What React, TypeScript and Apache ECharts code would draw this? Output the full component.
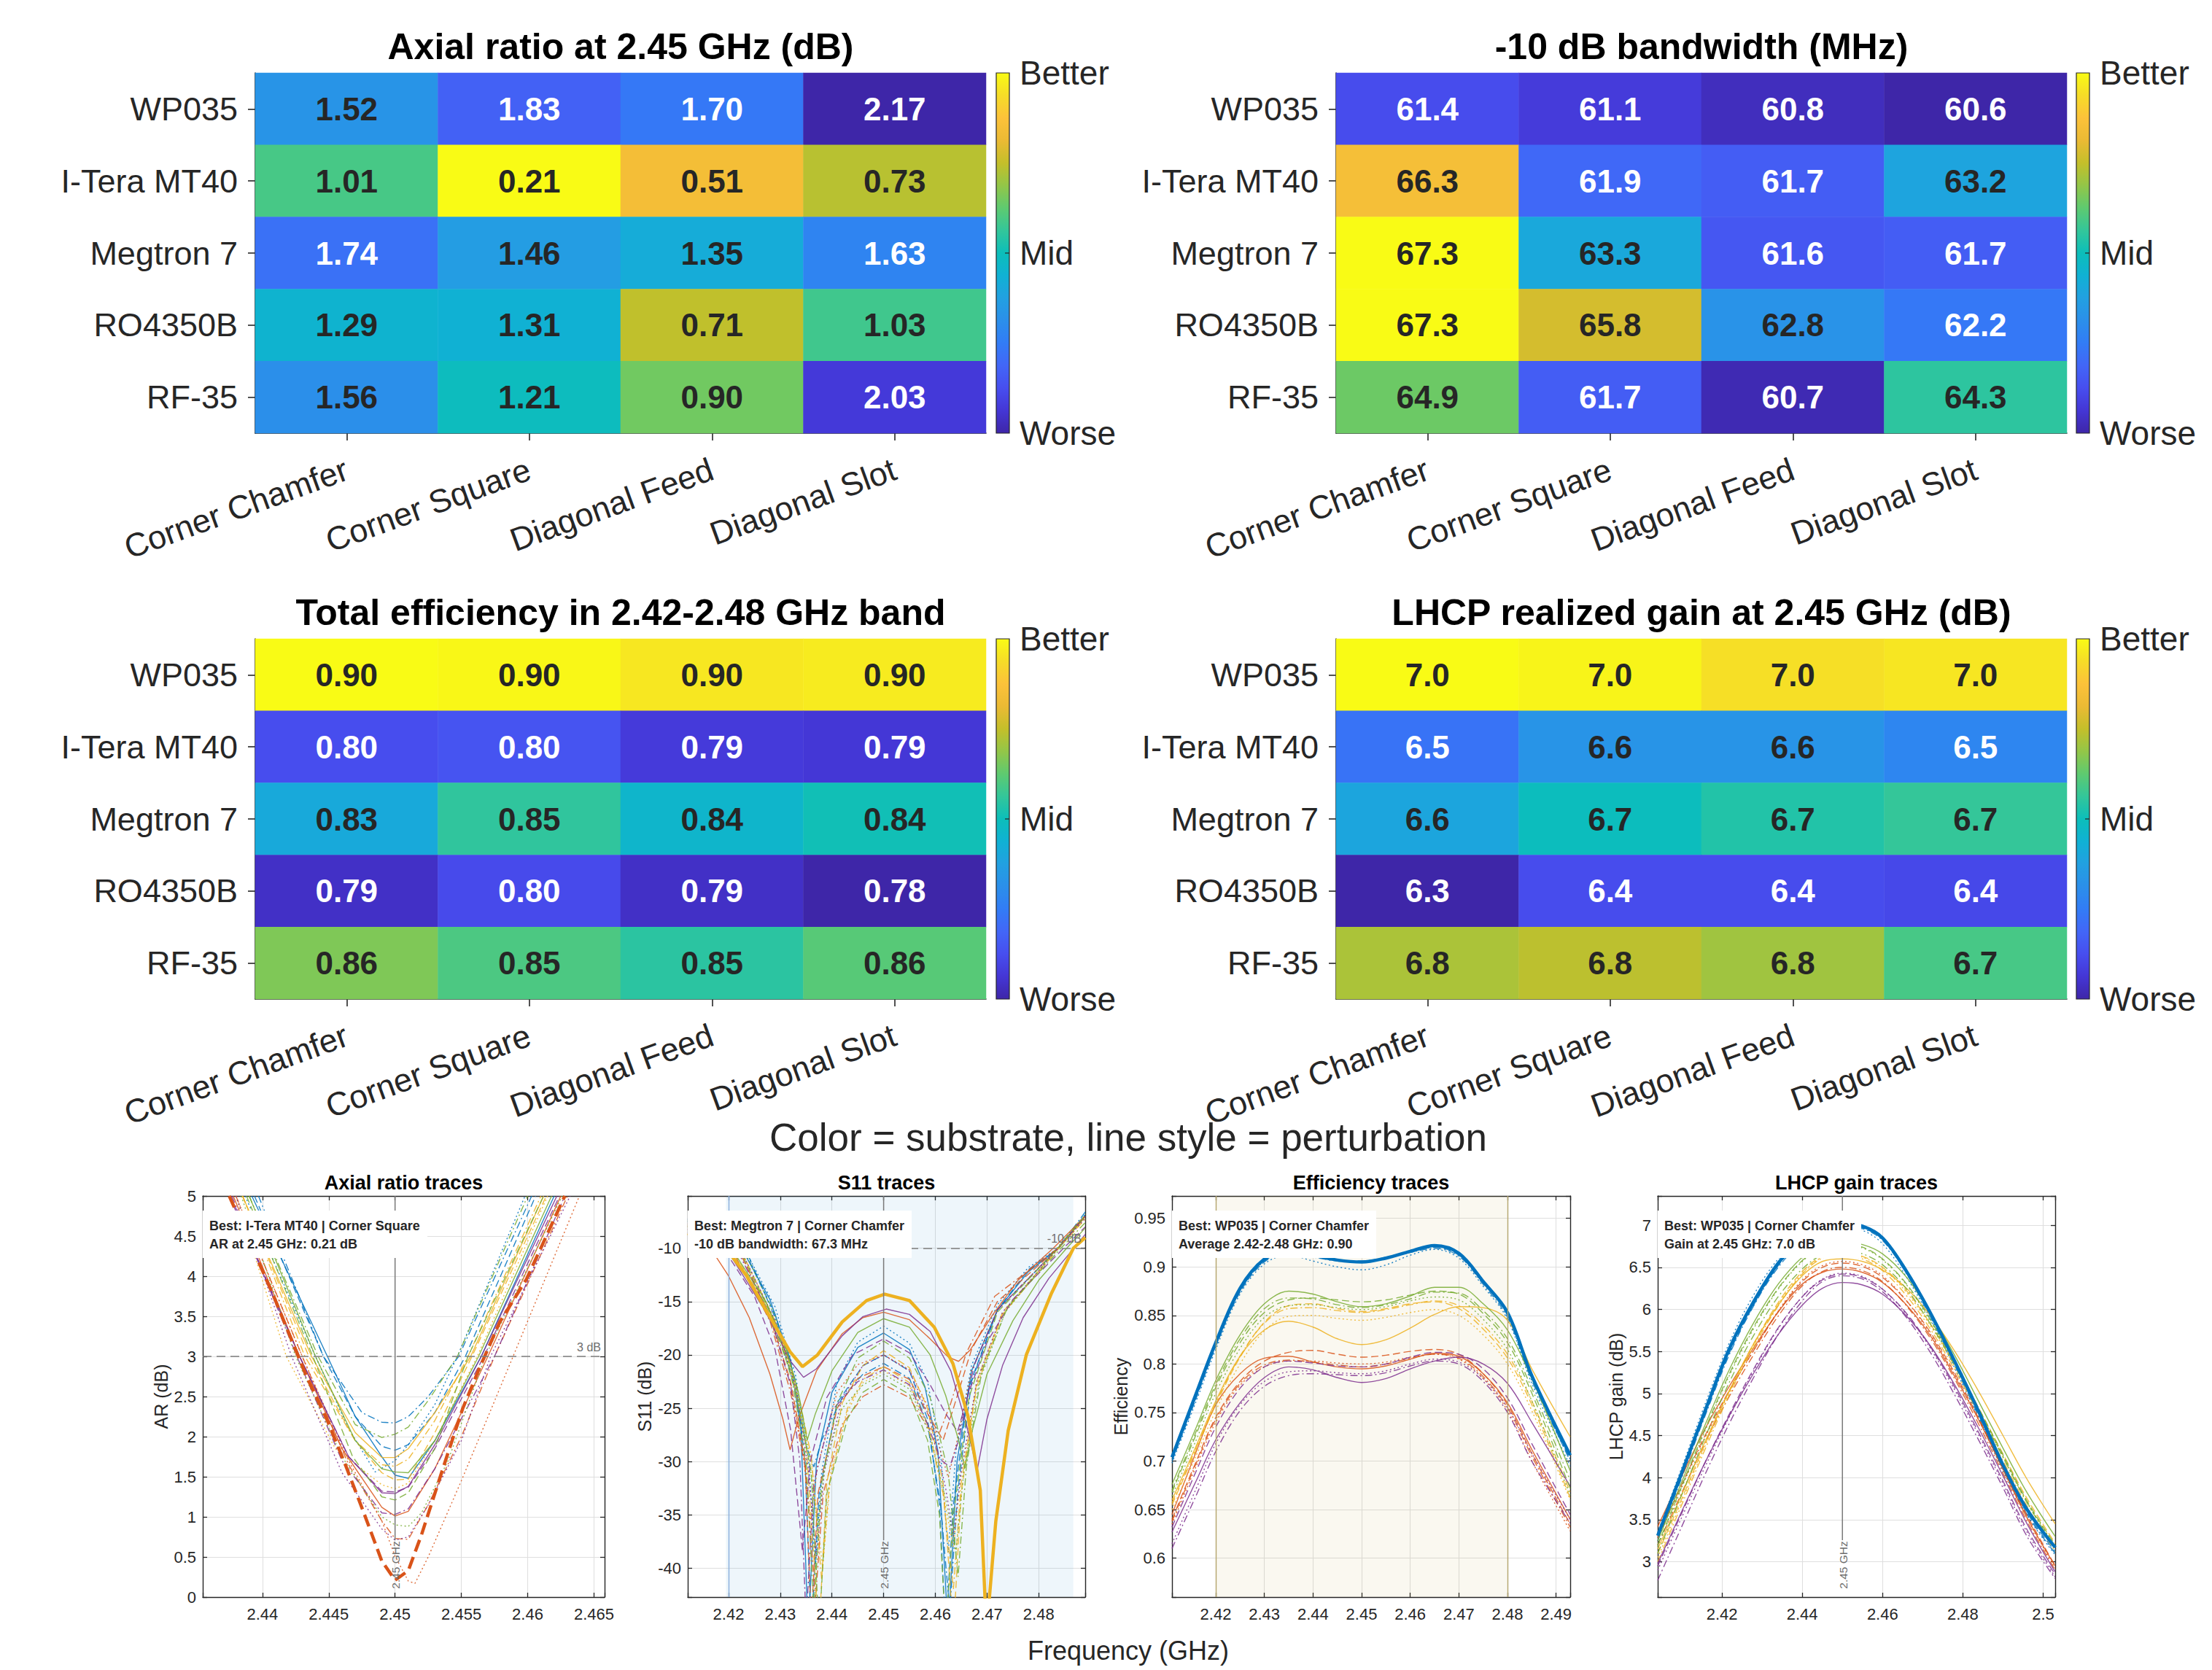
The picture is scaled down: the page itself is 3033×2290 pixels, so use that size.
import React, { useEffect, useRef } from 'react';
import * as echarts from 'echarts';

// ---------------- categories ----------------
const SUBSTRATES = ['WP035', 'I-Tera MT40', 'Megtron 7', 'RO4350B', 'RF-35'];
const PERTURBATIONS = ['Corner Chamfer', 'Corner Square', 'Diagonal Feed', 'Diagonal Slot'];

// ---------------- heatmap values (rows = substrates, cols = perturbations) ----------------
const AR_AT_245 = [
  [1.52, 1.83, 1.70, 2.17],
  [1.01, 0.21, 0.51, 0.73],
  [1.74, 1.46, 1.35, 1.63],
  [1.29, 1.31, 0.71, 1.03],
  [1.56, 1.21, 0.90, 2.03],
];
const BW_10DB = [
  [61.4, 61.1, 60.8, 60.6],
  [66.3, 61.9, 61.7, 63.2],
  [67.3, 63.3, 61.6, 61.7],
  [67.3, 65.8, 62.8, 62.2],
  [64.9, 61.7, 60.7, 64.3],
];
const EFF_BAND = [
  [0.903, 0.902, 0.898, 0.899],
  [0.796, 0.798, 0.790, 0.789],
  [0.831, 0.849, 0.837, 0.843],
  [0.786, 0.795, 0.786, 0.781],
  [0.862, 0.854, 0.848, 0.856],
];
const GAIN_AT_245 = [
  [7.03, 7.02, 6.99, 7.00],
  [6.48, 6.556, 6.556, 6.52],
  [6.60, 6.67, 6.70, 6.72],
  [6.32, 6.405, 6.405, 6.398],
  [6.83, 6.845, 6.82, 6.74],
];

// ---------------- reference lines / bands ----------------
const F_CENTER = 2.45;
const AR_LIMIT = 3;
const S11_LIMIT = -10;
const S11_BEST_BAND = [2.4195, 2.4867];
const EFF_BAND_EDGES = [2.42, 2.48];

// ---------------- axial ratio traces [f GHz, AR dB] (CC, CS, DF, DS) ----------------
const AR_WP035 = [
  [[2.4392, 5], [2.4449, 3], [2.447, 2.25], [2.449, 1.75], [2.450, 1.52], [2.451, 1.48], [2.453, 1.95], [2.4565, 3], [2.4620, 5]],
  [[2.4394, 5], [2.4446, 3], [2.447, 2.25], [2.449, 1.88], [2.450, 1.83], [2.451, 1.90], [2.453, 2.30], [2.4553, 3], [2.4606, 5]],
  [[2.4387, 5], [2.4440, 3], [2.4465, 2.1], [2.4485, 1.56], [2.450, 1.70], [2.451, 1.90], [2.453, 2.40], [2.4547, 3], [2.4598, 5]],
  [[2.4397, 5], [2.4446, 3], [2.4475, 2.3], [2.449, 2.18], [2.450, 2.17], [2.451, 2.25], [2.4525, 2.5], [2.4548, 3], [2.4603, 5]],
];
const AR_ITERA = [
  [[2.4378, 5], [2.4428, 3], [2.446, 1.85], [2.449, 1.12], [2.450, 1.01], [2.451, 1.07], [2.453, 1.6], [2.4570, 3], [2.4625, 5]],
  [[2.4375, 5], [2.4408, 3.77], [2.4433, 2.76], [2.4449, 2.2], [2.4463, 1.63], [2.4476, 1.07], [2.449, 0.45], [2.450, 0.21], [2.451, 0.33], [2.452, 0.78], [2.4538, 1.7], [2.4551, 2.35], [2.4563, 2.83], [2.4579, 3.43], [2.4599, 3.96], [2.4628, 5]],
  [[2.4380, 5], [2.4430, 3], [2.4465, 1.7], [2.449, 0.95], [2.450, 0.51], [2.451, 0.2], [2.4515, 0.17], [2.4525, 0.5], [2.455, 1.45], [2.4589, 3], [2.4639, 5]],
  [[2.4380, 5], [2.4430, 3], [2.4465, 1.65], [2.449, 0.95], [2.450, 0.73], [2.451, 0.72], [2.4525, 1.15], [2.455, 2.0], [2.4575, 3], [2.4630, 5]],
];
const AR_MEGTRON = [
  [[2.4385, 5], [2.4437, 3], [2.447, 2.05], [2.449, 1.74], [2.450, 1.74], [2.451, 1.85], [2.453, 2.3], [2.4557, 3], [2.4612, 5]],
  [[2.4385, 5], [2.4435, 3], [2.447, 1.95], [2.449, 1.55], [2.450, 1.46], [2.451, 1.47], [2.453, 2.05], [2.4558, 3], [2.4614, 5]],
  [[2.4380, 5], [2.4418, 3], [2.4455, 1.85], [2.449, 1.40], [2.450, 1.35], [2.451, 1.42], [2.453, 1.95], [2.4562, 3], [2.4615, 5]],
  [[2.4385, 5], [2.4432, 3], [2.447, 1.95], [2.449, 1.65], [2.450, 1.63], [2.451, 1.72], [2.453, 2.2], [2.4555, 3], [2.4610, 5]],
];
const AR_RO4350B = [
  [[2.4375, 5], [2.4428, 3], [2.4465, 1.75], [2.449, 1.30], [2.450, 1.29], [2.451, 1.38], [2.453, 1.9], [2.4565, 3], [2.4622, 5]],
  [[2.4376, 5], [2.4428, 3], [2.4465, 1.75], [2.449, 1.32], [2.450, 1.31], [2.451, 1.37], [2.453, 1.85], [2.4567, 3], [2.4624, 5]],
  [[2.4380, 5], [2.4422, 3], [2.446, 1.55], [2.449, 0.85], [2.450, 0.71], [2.451, 0.75], [2.4525, 1.15], [2.455, 1.95], [2.4572, 3], [2.4632, 5]],
  [[2.4377, 5], [2.4426, 3], [2.446, 1.7], [2.449, 1.05], [2.450, 1.03], [2.451, 1.10], [2.453, 1.6], [2.4575, 3], [2.4628, 5]],
];
const AR_RF35 = [
  [[2.4390, 5], [2.4440, 3], [2.447, 1.95], [2.449, 1.60], [2.450, 1.56], [2.451, 1.55], [2.453, 1.95], [2.4563, 3], [2.4618, 5]],
  [[2.4388, 5], [2.4438, 3], [2.4468, 1.75], [2.449, 1.25], [2.450, 1.21], [2.451, 1.30], [2.453, 1.85], [2.4555, 3], [2.4612, 5]],
  [[2.4384, 5], [2.4425, 3], [2.446, 1.75], [2.449, 1.00], [2.450, 0.90], [2.451, 0.88], [2.452, 1.05], [2.454, 1.7], [2.4568, 3], [2.4626, 5]],
  [[2.4390, 5], [2.4442, 3], [2.447, 2.15], [2.449, 1.99], [2.450, 2.03], [2.451, 2.12], [2.4525, 2.45], [2.4547, 3], [2.4600, 5]],
];

// ---------------- S11 traces [f GHz, S11 dB] (CC, CS, DF, DS) ----------------
const S11_WP035 = [
  [[2.4121, -7.5], [2.4225, -10], [2.428, -14.8], [2.432, -20.5], [2.434, -27.0], [2.4354, -46], [2.437, -30.0], [2.440, -23.5], [2.445, -19.3], [2.450, -17.95], [2.455, -19.5], [2.458, -23.0], [2.4605, -29.0], [2.4625, -46], [2.4642, -30.0], [2.467, -21.5], [2.472, -15.8], [2.478, -12.2], [2.4839, -10], [2.489, -7.0]],
  [[2.4121, -7.4], [2.4228, -10], [2.429, -16.2], [2.433, -22.5], [2.4348, -30], [2.436, -46], [2.4375, -33], [2.441, -24.5], [2.446, -21.0], [2.450, -20.0], [2.455, -21.5], [2.4585, -26.0], [2.4608, -34], [2.462, -46], [2.4635, -34], [2.4665, -23.0], [2.472, -15.8], [2.478, -12.0], [2.4839, -10], [2.489, -6.9]],
  [[2.4121, -7.3], [2.423, -10], [2.429, -15.5], [2.433, -22.0], [2.4355, -30], [2.4368, -40], [2.438, -31], [2.441, -22.5], [2.445, -18.8], [2.450, -17.3], [2.455, -18.9], [2.4585, -22.5], [2.461, -29], [2.4625, -38.5], [2.464, -29], [2.467, -21], [2.472, -15.3], [2.478, -11.8], [2.4838, -10], [2.489, -6.8]],
  [[2.4121, -7.2], [2.4232, -10], [2.429, -16.5], [2.433, -23.5], [2.435, -28.5], [2.4365, -30.5], [2.438, -28.0], [2.442, -24.0], [2.446, -21.8], [2.450, -20.8], [2.455, -22.2], [2.4585, -26.5], [2.461, -34], [2.4628, -44], [2.4643, -33], [2.467, -22.5], [2.472, -15.8], [2.4838, -10], [2.489, -6.6]],
];
const S11_ITERA = [
  [[2.4121, -8.2], [2.4165, -10], [2.420, -12.6], [2.424, -16.5], [2.428, -21.8], [2.4305, -26], [2.4319, -28.9], [2.4335, -26.0], [2.437, -21.5], [2.442, -18.0], [2.446, -16.5], [2.450, -16.0], [2.455, -16.7], [2.459, -18.5], [2.4625, -20.2], [2.4645, -20.6], [2.4668, -19.5], [2.471, -16.3], [2.476, -13.0], [2.4828, -10], [2.489, -7.0]],
  [[2.4121, -7.7], [2.4218, -10], [2.428, -16.3], [2.432, -22.5], [2.4348, -30], [2.436, -45], [2.4373, -33], [2.441, -25.0], [2.445, -22.2], [2.450, -21.1], [2.455, -22.3], [2.4585, -25.5], [2.4615, -28.0], [2.4635, -25.0], [2.467, -19.5], [2.472, -15.0], [2.4837, -10], [2.489, -7.0]],
  [[2.4121, -7.8], [2.422, -10], [2.428, -16.5], [2.432, -22.8], [2.4345, -29.5], [2.4358, -35.5], [2.4372, -30.5], [2.441, -23.5], [2.445, -20.9], [2.450, -20.0], [2.455, -21.4], [2.4585, -24.8], [2.461, -29.0], [2.4625, -31.5], [2.464, -28.5], [2.467, -21.5], [2.472, -15.8], [2.4837, -10], [2.489, -7.0]],
  [[2.4121, -8.0], [2.4205, -10], [2.428, -16.8], [2.432, -23.5], [2.435, -31], [2.4368, -43], [2.4383, -33], [2.442, -26.5], [2.446, -23.9], [2.450, -22.8], [2.455, -24.0], [2.4585, -26.8], [2.4608, -27.3], [2.463, -24.5], [2.466, -19.8], [2.4715, -14.5], [2.4837, -10], [2.489, -7.0]],
];
const S11_MEGTRON = [
  [[2.4121, -8.6], [2.4195, -10], [2.4235, -12.6], [2.4271, -15.7], [2.4319, -19.7], [2.4343, -21.1], [2.4372, -20.0], [2.442, -16.9], [2.4467, -14.9], [2.4502, -14.3], [2.455, -14.9], [2.4598, -17.4], [2.4634, -20.8], [2.4663, -25.7], [2.4687, -32.7], [2.4699, -46], [2.4717, -35.6], [2.4741, -27.1], [2.4776, -20], [2.4824, -14.3], [2.4867, -10], [2.489, -9.0]],
  [[2.4121, -8.0], [2.4205, -10], [2.428, -16.0], [2.432, -21.0], [2.435, -28.5], [2.4375, -46], [2.439, -32], [2.442, -24.5], [2.446, -21.0], [2.450, -19.6], [2.455, -21.2], [2.4585, -25.0], [2.4615, -32], [2.4635, -46], [2.465, -33], [2.468, -22.5], [2.473, -16.0], [2.4838, -10], [2.489, -7.3]],
  [[2.4121, -7.9], [2.4222, -10], [2.429, -16.9], [2.433, -23.0], [2.436, -30.0], [2.4382, -40], [2.4398, -31], [2.443, -25.3], [2.446, -22.6], [2.450, -21.5], [2.455, -22.9], [2.4588, -27.0], [2.4615, -33], [2.4635, -38], [2.465, -31], [2.468, -22.8], [2.473, -16.2], [2.4838, -10], [2.489, -7.1]],
  [[2.4121, -7.9], [2.4222, -10], [2.429, -16.8], [2.433, -22.5], [2.436, -29.5], [2.438, -41], [2.4395, -32], [2.443, -25.0], [2.446, -22.3], [2.450, -21.1], [2.455, -22.6], [2.4585, -26.5], [2.4615, -33], [2.4635, -42], [2.465, -32], [2.468, -23.0], [2.473, -16.2], [2.4839, -10], [2.489, -7.1]],
];
const S11_RO4350B = [
  [[2.4121, -8.5], [2.4195, -10], [2.427, -15.8], [2.432, -20.6], [2.4345, -22.1], [2.437, -21.3], [2.442, -18.2], [2.446, -16.4], [2.4505, -15.7], [2.455, -16.2], [2.459, -17.8], [2.463, -21.5], [2.466, -26.5], [2.4681, -30.8], [2.470, -26.0], [2.473, -21.0], [2.477, -16.5], [2.482, -12.8], [2.4868, -10], [2.489, -8.7]],
  [[2.4121, -8.2], [2.419, -10], [2.425, -14.5], [2.429, -19.5], [2.432, -27.0], [2.4343, -38.4], [2.4358, -30.0], [2.439, -24.0], [2.444, -20.0], [2.450, -18.5], [2.455, -19.8], [2.459, -22.8], [2.462, -25.5], [2.4643, -27.2], [2.4665, -23.5], [2.470, -18.8], [2.475, -14.8], [2.4848, -10], [2.489, -8.0]],
  [[2.4121, -7.6], [2.4222, -10], [2.429, -16.8], [2.433, -23.0], [2.4355, -31], [2.437, -39], [2.4385, -31], [2.442, -24.0], [2.446, -21.0], [2.450, -20.0], [2.455, -21.5], [2.459, -26.0], [2.462, -32.5], [2.4635, -37], [2.465, -31], [2.468, -22.5], [2.473, -16.0], [2.4838, -10], [2.489, -7.2]],
  [[2.4121, -7.9], [2.4215, -10], [2.428, -16.3], [2.432, -22.8], [2.4338, -30], [2.435, -45], [2.4365, -32], [2.440, -25.2], [2.445, -22.5], [2.450, -21.4], [2.455, -22.8], [2.4585, -26.5], [2.461, -29.8], [2.4628, -30.5], [2.4645, -28.0], [2.4675, -21.0], [2.472, -15.8], [2.4837, -10], [2.489, -7.0]],
];
const S11_RF35 = [
  [[2.4121, -8.0], [2.4205, -10], [2.427, -14.8], [2.431, -19.2], [2.4335, -23.5], [2.4352, -28.0], [2.4368, -25.5], [2.440, -21.5], [2.445, -17.9], [2.450, -16.6], [2.455, -17.4], [2.459, -20.0], [2.462, -23.8], [2.4645, -28.0], [2.4657, -30.6], [2.4672, -27.0], [2.470, -21.8], [2.475, -16.8], [2.480, -13.0], [2.4854, -10], [2.489, -8.1]],
  [[2.4121, -7.8], [2.422, -10], [2.429, -17.0], [2.433, -23.5], [2.436, -31], [2.4375, -46], [2.439, -33], [2.443, -26.0], [2.446, -23.5], [2.450, -22.3], [2.455, -23.7], [2.4585, -28.0], [2.4608, -35], [2.462, -46], [2.4635, -35], [2.4665, -24.0], [2.472, -16.0], [2.4837, -10], [2.489, -7.0]],
  [[2.4121, -7.4], [2.4228, -10], [2.429, -16.3], [2.433, -22.8], [2.4355, -29.5], [2.4372, -36], [2.4388, -30], [2.442, -25.0], [2.446, -22.8], [2.450, -21.8], [2.455, -23.2], [2.459, -27.5], [2.462, -33.5], [2.464, -38.5], [2.4655, -31], [2.4685, -22.5], [2.4735, -16.0], [2.4835, -10], [2.489, -6.8]],
  [[2.4121, -8.0], [2.420, -10], [2.427, -15.2], [2.432, -21.5], [2.435, -30.0], [2.4365, -44], [2.438, -32], [2.441, -24.5], [2.445, -20.3], [2.450, -18.7], [2.455, -20.3], [2.459, -24.0], [2.4625, -31.0], [2.4644, -40.8], [2.466, -30.5], [2.469, -21.5], [2.474, -15.5], [2.4843, -10], [2.489, -7.6]],
];

// ---------------- efficiency traces (values at EFF_FREQ) ----------------
const EFF_FREQ = [2.411, 2.416, 2.420, 2.425, 2.430, 2.435, 2.440, 2.445, 2.450, 2.455, 2.460, 2.465, 2.470, 2.475, 2.480, 2.485, 2.4929];
const EFF_WP035 = [
  [0.704, 0.770, 0.822, 0.878, 0.908, 0.917, 0.912, 0.907, 0.905, 0.909, 0.916, 0.922, 0.914, 0.885, 0.853, 0.788, 0.706],
  [0.700, 0.765, 0.818, 0.874, 0.905, 0.914, 0.911, 0.907, 0.906, 0.910, 0.916, 0.920, 0.912, 0.884, 0.850, 0.786, 0.700],
  [0.698, 0.762, 0.815, 0.872, 0.903, 0.912, 0.906, 0.900, 0.897, 0.902, 0.912, 0.918, 0.909, 0.880, 0.846, 0.780, 0.695],
  [0.702, 0.767, 0.819, 0.875, 0.906, 0.914, 0.910, 0.906, 0.905, 0.909, 0.915, 0.919, 0.911, 0.882, 0.848, 0.783, 0.702],
];
const EFF_ITERA = [
  [0.645, 0.710, 0.758, 0.790, 0.806, 0.808, 0.802, 0.797, 0.795, 0.798, 0.805, 0.811, 0.808, 0.790, 0.760, 0.712, 0.640],
  [0.640, 0.700, 0.745, 0.782, 0.803, 0.812, 0.814, 0.810, 0.807, 0.809, 0.813, 0.815, 0.810, 0.790, 0.758, 0.708, 0.635],
  [0.635, 0.695, 0.740, 0.778, 0.797, 0.803, 0.803, 0.801, 0.800, 0.802, 0.807, 0.810, 0.805, 0.785, 0.752, 0.700, 0.628],
  [0.638, 0.698, 0.743, 0.780, 0.799, 0.804, 0.802, 0.799, 0.797, 0.800, 0.806, 0.810, 0.806, 0.787, 0.755, 0.705, 0.632],
];
const EFF_MEGTRON = [
  [0.660, 0.716, 0.762, 0.808, 0.835, 0.844, 0.838, 0.826, 0.820, 0.825, 0.837, 0.851, 0.859, 0.858, 0.845, 0.795, 0.725],
  [0.655, 0.712, 0.758, 0.807, 0.843, 0.860, 0.862, 0.857, 0.854, 0.857, 0.862, 0.864, 0.857, 0.836, 0.806, 0.758, 0.662],
  [0.650, 0.706, 0.752, 0.800, 0.834, 0.849, 0.850, 0.847, 0.845, 0.848, 0.853, 0.856, 0.850, 0.830, 0.800, 0.752, 0.660],
  [0.657, 0.714, 0.760, 0.808, 0.842, 0.857, 0.858, 0.855, 0.853, 0.856, 0.861, 0.865, 0.860, 0.840, 0.810, 0.762, 0.668],
];
const EFF_RO4350B = [
  [0.627, 0.680, 0.722, 0.760, 0.786, 0.797, 0.794, 0.786, 0.781, 0.785, 0.795, 0.803, 0.807, 0.800, 0.780, 0.740, 0.674],
  [0.632, 0.690, 0.735, 0.775, 0.797, 0.803, 0.801, 0.798, 0.797, 0.800, 0.807, 0.812, 0.810, 0.795, 0.765, 0.718, 0.645],
  [0.615, 0.672, 0.718, 0.758, 0.782, 0.792, 0.793, 0.791, 0.790, 0.793, 0.800, 0.805, 0.802, 0.785, 0.755, 0.708, 0.640],
  [0.610, 0.665, 0.710, 0.752, 0.777, 0.788, 0.790, 0.789, 0.788, 0.791, 0.798, 0.803, 0.800, 0.782, 0.750, 0.700, 0.636],
];
const EFF_RF35 = [
  [0.676, 0.735, 0.783, 0.830, 0.862, 0.875, 0.872, 0.864, 0.859, 0.862, 0.870, 0.879, 0.879, 0.862, 0.835, 0.785, 0.690],
  [0.668, 0.728, 0.776, 0.822, 0.853, 0.866, 0.868, 0.866, 0.864, 0.866, 0.871, 0.875, 0.872, 0.852, 0.822, 0.770, 0.672],
  [0.664, 0.722, 0.770, 0.816, 0.848, 0.860, 0.861, 0.858, 0.856, 0.859, 0.865, 0.869, 0.866, 0.846, 0.815, 0.762, 0.665],
  [0.670, 0.731, 0.779, 0.826, 0.857, 0.868, 0.867, 0.861, 0.858, 0.861, 0.867, 0.874, 0.873, 0.855, 0.826, 0.775, 0.680],
];

// ---------------- LHCP gain traces (values at GAIN_FREQ) ----------------
const GAIN_FREQ = [2.404, 2.410, 2.416, 2.422, 2.428, 2.434, 2.440, 2.445, 2.450, 2.455, 2.460, 2.466, 2.472, 2.478, 2.484, 2.490, 2.496, 2.503];
const GAIN_WP035 = [
  [3.31, 4.06, 4.82, 5.55, 6.10, 6.55, 6.85, 6.99, 7.02, 6.99, 6.85, 6.45, 5.95, 5.38, 4.78, 4.15, 3.62, 3.17],
  [3.28, 4.02, 4.78, 5.50, 6.06, 6.52, 6.83, 6.97, 7.00, 6.97, 6.83, 6.43, 5.92, 5.35, 4.74, 4.12, 3.58, 3.12],
  [3.35, 4.12, 4.90, 5.62, 6.18, 6.60, 6.87, 6.97, 6.98, 6.94, 6.78, 6.38, 5.88, 5.30, 4.70, 4.08, 3.55, 3.08],
  [3.25, 4.00, 4.76, 5.48, 6.05, 6.50, 6.80, 6.95, 6.99, 6.96, 6.82, 6.42, 5.90, 5.33, 4.72, 4.10, 3.56, 3.10],
];
const GAIN_ITERA = [
  [3.42, 4.02, 4.60, 5.10, 5.55, 5.97, 6.30, 6.44, 6.48, 6.44, 6.32, 6.05, 5.68, 5.20, 4.68, 4.10, 3.52, 2.95],
  [3.30, 3.92, 4.52, 5.05, 5.52, 5.97, 6.33, 6.50, 6.55, 6.51, 6.38, 6.10, 5.72, 5.24, 4.70, 4.12, 3.55, 2.95],
  [3.28, 3.90, 4.50, 5.04, 5.52, 5.98, 6.35, 6.52, 6.57, 6.53, 6.40, 6.10, 5.70, 5.22, 4.68, 4.10, 3.52, 2.92],
  [3.20, 3.82, 4.44, 4.98, 5.47, 5.92, 6.28, 6.45, 6.50, 6.46, 6.33, 6.04, 5.65, 5.17, 4.63, 4.05, 3.48, 2.90],
];
const GAIN_MEGTRON = [
  [3.15, 3.80, 4.45, 5.05, 5.60, 6.05, 6.40, 6.57, 6.60, 6.57, 6.47, 6.25, 5.92, 5.50, 5.02, 4.50, 3.98, 3.45],
  [3.10, 3.75, 4.42, 5.05, 5.60, 6.08, 6.45, 6.63, 6.67, 6.63, 6.50, 6.22, 5.82, 5.35, 4.82, 4.28, 3.75, 3.22],
  [3.05, 3.72, 4.40, 5.03, 5.58, 6.06, 6.43, 6.62, 6.66, 6.62, 6.49, 6.20, 5.80, 5.32, 4.80, 4.25, 3.72, 3.18],
  [3.00, 3.68, 4.36, 5.00, 5.56, 6.04, 6.42, 6.61, 6.65, 6.60, 6.46, 6.16, 5.76, 5.28, 4.75, 4.20, 3.66, 3.12],
];
const GAIN_RO4350B = [
  [2.98, 3.60, 4.20, 4.75, 5.25, 5.70, 6.05, 6.25, 6.32, 6.29, 6.18, 5.92, 5.56, 5.10, 4.58, 4.02, 3.45, 2.88],
  [2.95, 3.58, 4.20, 4.77, 5.30, 5.78, 6.15, 6.35, 6.42, 6.38, 6.24, 5.95, 5.55, 5.07, 4.53, 3.96, 3.38, 2.85],
  [2.90, 3.53, 4.15, 4.74, 5.28, 5.77, 6.15, 6.36, 6.43, 6.39, 6.24, 5.94, 5.53, 5.04, 4.50, 3.93, 3.35, 2.82],
  [2.78, 3.42, 4.06, 4.66, 5.20, 5.70, 6.10, 6.33, 6.40, 6.36, 6.21, 5.90, 5.48, 4.98, 4.44, 3.88, 3.30, 2.80],
];
const GAIN_RF35 = [
  [3.25, 3.95, 4.65, 5.30, 5.85, 6.30, 6.62, 6.77, 6.80, 6.77, 6.66, 6.38, 5.95, 5.45, 4.90, 4.35, 3.82, 3.30],
  [3.20, 3.90, 4.60, 5.25, 5.80, 6.25, 6.58, 6.74, 6.78, 6.74, 6.60, 6.30, 5.87, 5.37, 4.82, 4.27, 3.72, 3.20],
  [3.18, 3.88, 4.58, 5.23, 5.78, 6.24, 6.57, 6.73, 6.77, 6.73, 6.59, 6.29, 5.85, 5.35, 4.80, 4.25, 3.70, 3.18],
  [3.10, 3.80, 4.50, 5.15, 5.70, 6.15, 6.48, 6.65, 6.70, 6.66, 6.53, 6.24, 5.82, 5.33, 4.79, 4.24, 3.70, 3.16],
];

// ---------------- styles ----------------
const FONT = '"Liberation Sans", Arial, Helvetica, sans-serif';
const TXT = '#262626';
const SUBSTRATE_COLORS = ['#0072BD', '#D95319', '#EDB120', '#7E2F8E', '#77AC30'];
const DASHES: any[] = ['solid', [10, 5], [2, 3.5], [10, 4, 2, 4]];
const DASHES_BEST: any[] = ['solid', [17, 8], [3, 5], [17, 6, 3, 6]];
const PARULA = ['#3E26A8', '#4436D5', '#474EEF', '#4266F7', '#327CF6', '#2B8FEA', '#22A0E1', '#10B1D4', '#0CBEBA',
  '#33C69A', '#5ECA70', '#93C648', '#C4BF2A', '#EBBA34', '#FCC23A', '#F6DC28', '#F9FB15'];

const HM_W = 1002;
const HM_H = 494;
const CB_W = 18;
const HEATMAPS = [
  { title: 'Axial ratio at 2.45 GHz (dB)', values: AR_AT_245, lowerBetter: true, digits: 2, left: 350, top: 100, cb: 1366 },
  { title: '-10 dB bandwidth (MHz)', values: BW_10DB, lowerBetter: false, digits: 1, left: 1832, top: 100, cb: 2847 },
  { title: 'Total efficiency in 2.42-2.48 GHz band', values: EFF_BAND, lowerBetter: false, digits: 2, left: 350, top: 876, cb: 1366 },
  { title: 'LHCP realized gain at 2.45 GHz (dB)', values: GAIN_AT_245, lowerBetter: false, digits: 1, left: 1832, top: 876, cb: 2847 },
];

const LP_TOP = 1640;
const LP_H = 550;
const PANELS: any[] = [
  {
    title: 'Axial ratio traces', yName: 'AR (dB)', nameGap: 45, left: 278, width: 551,
    x: [2.4355, 2.4658, 0.005], y: [0, 5, 0.5],
    traces: [AR_WP035, AR_ITERA, AR_MEGTRON, AR_RO4350B, AR_RF35], freq: null, smooth: false,
    best: [1, 1], boxW: 308, centerLine: true,
    note: ['Best: ' + SUBSTRATES[1] + ' | ' + PERTURBATIONS[1], 'AR at 2.45 GHz: ' + AR_AT_245[1][1].toFixed(2) + ' dB'],
  },
  {
    title: 'S11 traces', yName: 'S11 (dB)', nameGap: 47, left: 943, width: 545,
    x: [2.4121, 2.489, 0.01], y: [-42.7, -5.1, 5],
    traces: [S11_WP035, S11_ITERA, S11_MEGTRON, S11_RO4350B, S11_RF35], freq: null, smooth: false,
    best: [2, 0], boxW: 307, centerLine: true,
    note: ['Best: ' + SUBSTRATES[2] + ' | ' + PERTURBATIONS[0], '-10 dB bandwidth: ' + BW_10DB[2][0].toFixed(1) + ' MHz'],
  },
  {
    title: 'Efficiency traces', yName: 'Efficiency', nameGap: 58, left: 1607, width: 546,
    x: [2.411, 2.4929, 0.01], y: [0.56, 0.973, 0.05],
    traces: [EFF_WP035, EFF_ITERA, EFF_MEGTRON, EFF_RO4350B, EFF_RF35], freq: EFF_FREQ, smooth: 0.35,
    best: [0, 0], boxW: 280, centerLine: false,
    note: ['Best: ' + SUBSTRATES[0] + ' | ' + PERTURBATIONS[0], 'Average 2.42-2.48 GHz: ' + EFF_BAND[0][0].toFixed(2)],
  },
  {
    title: 'LHCP gain traces', yName: 'LHCP gain (dB)', nameGap: 45, left: 2273, width: 545,
    x: [2.404, 2.503, 0.02], y: [2.58, 7.348, 0.5],
    traces: [GAIN_WP035, GAIN_ITERA, GAIN_MEGTRON, GAIN_RO4350B, GAIN_RF35], freq: GAIN_FREQ, smooth: 0.35,
    best: [0, 0], boxW: 279, centerLine: true,
    note: ['Best: ' + SUBSTRATES[0] + ' | ' + PERTURBATIONS[0], 'Gain at 2.45 GHz: ' + GAIN_AT_245[0][0].toFixed(1) + ' dB'],
  },
];

const tickFmt = (step: number) => (v: number) => {
  const r = v / step;
  if (Math.abs(r - Math.round(r)) > 1e-6) return '';
  return String(parseFloat(v.toFixed(4)));
};

function buildOption() {
  const grid: any[] = [];
  const xAxis: any[] = [];
  const yAxis: any[] = [];
  const series: any[] = [];
  const visualMap: any[] = [];

  HEATMAPS.forEach((h, i) => {
    grid.push({ left: h.left, top: h.top, width: HM_W, height: HM_H });
    const axisLineStyle = { color: TXT, width: 1.6 };
    xAxis.push({
      type: 'category', gridIndex: i, data: PERTURBATIONS, position: 'bottom',
      axisLine: { show: true, onZero: false, lineStyle: axisLineStyle },
      axisTick: { show: true, alignWithLabel: true, length: 10, lineStyle: axisLineStyle },
      axisLabel: { interval: 0, rotate: 20, fontSize: 45, color: TXT, fontFamily: FONT, margin: 48 },
      splitLine: { show: false },
    });
    yAxis.push({
      type: 'category', gridIndex: i, data: SUBSTRATES, inverse: true,
      axisLine: { show: true, onZero: false, lineStyle: axisLineStyle },
      axisTick: { show: true, alignWithLabel: true, length: 10, lineStyle: axisLineStyle },
      axisLabel: { interval: 0, fontSize: 45, color: TXT, fontFamily: FONT, margin: 24 },
      splitLine: { show: false },
    });
    const flat = h.values.flat();
    const mn = Math.min(...flat);
    const mx = Math.max(...flat);
    const data: any[] = [];
    h.values.forEach((row, r) => row.forEach((v, c) => {
      let s = (v - mn) / (mx - mn);
      if (h.lowerBetter) s = 1 - s;
      data.push({ value: [c, r, v], label: { color: s < 0.3 ? '#FFFFFF' : TXT } });
    }));
    series.push({
      type: 'heatmap', xAxisIndex: i, yAxisIndex: i, data, silent: true,
      itemStyle: { borderWidth: 0 },
      emphasis: { disabled: true },
      label: {
        show: true, fontSize: 44, fontWeight: 'bold', fontFamily: FONT,
        formatter: (p: any) => p.value[2].toFixed(h.digits),
      },
    });
    visualMap.push({
      type: 'continuous', show: false, seriesIndex: i, dimension: 2, min: mn, max: mx,
      inRange: { color: h.lowerBetter ? PARULA.slice().reverse() : PARULA },
    });
  });

  PANELS.forEach((p, j) => {
    const gi = 4 + j;
    grid.push({ left: p.left, top: LP_TOP, width: p.width, height: LP_H });
    const axLine = { show: true, onZero: false, lineStyle: { color: TXT, width: 1.4 } };
    const tick = { show: true, inside: true, length: 6, lineStyle: { color: TXT, width: 1.3 } };
    const split = { show: true, lineStyle: { color: '#DFDFDF', width: 1.1 } };
    const xBase = { type: 'value', gridIndex: gi, min: p.x[0], max: p.x[1], minInterval: p.x[2], maxInterval: p.x[2], splitNumber: 8 };
    const yBase = { type: 'value', gridIndex: gi, min: p.y[0], max: p.y[1], minInterval: p.y[2], maxInterval: p.y[2], splitNumber: 10 };
    xAxis[gi] = {
      ...xBase, position: 'bottom', axisLine: axLine, axisTick: tick, splitLine: split,
      axisLabel: { fontSize: 22, color: TXT, fontFamily: FONT, margin: 12, formatter: tickFmt(p.x[2]) },
    };
    yAxis[gi] = {
      ...yBase, position: 'left', axisLine: axLine, axisTick: tick, splitLine: split,
      name: p.yName, nameLocation: 'middle', nameGap: p.nameGap,
      nameTextStyle: { fontSize: 25, color: TXT, fontFamily: FONT },
      axisLabel: { fontSize: 22, color: TXT, fontFamily: FONT, margin: 9, formatter: tickFmt(p.y[2]) },
    };
    xAxis[8 + j] = {
      ...xBase, position: 'top', axisLine: axLine, axisTick: tick, splitLine: { show: false }, axisLabel: { show: false },
    };
    yAxis[8 + j] = {
      ...yBase, position: 'right', axisLine: axLine, axisTick: tick, splitLine: { show: false }, axisLabel: { show: false },
    };

    // reference marks holder
    const holder: any = {
      type: 'line', xAxisIndex: gi, yAxisIndex: gi, data: [], symbol: 'none', silent: true, z: 2,
    };
    const mlLabel = { show: true, position: 'insideEndTop', color: '#6E6E6E', fontSize: 16, fontFamily: FONT };
    if (j === 0) {
      holder.markLine = {
        silent: true, symbol: 'none',
        data: [{ yAxis: AR_LIMIT, label: { ...mlLabel, formatter: AR_LIMIT + ' dB' }, lineStyle: { color: '#7F7F7F', width: 1.5, type: [12, 7] } }],
      };
    } else if (j === 1) {
      holder.markArea = { silent: true, itemStyle: { color: 'rgba(0,114,189,0.065)' }, data: [[{ xAxis: S11_BEST_BAND[0] }, { xAxis: S11_BEST_BAND[1] }]] };
      holder.markLine = {
        silent: true, symbol: 'none',
        data: [
          { yAxis: S11_LIMIT, label: { ...mlLabel, formatter: S11_LIMIT + ' dB' }, lineStyle: { color: '#7F7F7F', width: 1.5, type: [12, 7] } },
          { xAxis: S11_BEST_BAND[0], label: { show: false }, lineStyle: { color: '#8AAEDC', width: 1.4, type: 'solid' } },
          { xAxis: S11_BEST_BAND[1], label: { show: false }, lineStyle: { color: '#8AAEDC', width: 1.4, type: 'solid' } },
        ],
      };
    } else if (j === 2) {
      holder.markArea = { silent: true, itemStyle: { color: 'rgba(200,170,80,0.085)' }, data: [[{ xAxis: EFF_BAND_EDGES[0] }, { xAxis: EFF_BAND_EDGES[1] }]] };
      holder.markLine = {
        silent: true, symbol: 'none',
        data: [
          { xAxis: EFF_BAND_EDGES[0], label: { show: false }, lineStyle: { color: '#B5A66E', width: 1.4, type: 'solid' } },
          { xAxis: EFF_BAND_EDGES[1], label: { show: false }, lineStyle: { color: '#B5A66E', width: 1.4, type: 'solid' } },
        ],
      };
    }
    series.push(holder);

    p.traces.forEach((group: any[], s: number) => {
      group.forEach((tr: any[], k: number) => {
        const isBest = p.best[0] === s && p.best[1] === k;
        const data = p.freq ? p.freq.map((f: number, m: number) => [f, tr[m]]) : tr;
        series.push({
          type: 'line', xAxisIndex: gi, yAxisIndex: gi, data, symbol: 'none', showSymbol: false,
          smooth: p.smooth, silent: true, clip: true, z: isBest ? 4 : 3,
          lineStyle: {
            color: SUBSTRATE_COLORS[s], width: isBest ? 4.5 : 1.4,
            type: isBest ? DASHES_BEST[k] : DASHES[k], opacity: isBest ? 1 : 0.85,
          },
          emphasis: { disabled: true },
        });
      });
    });
  });

  return { animation: false, backgroundColor: '#FFFFFF', textStyle: { fontFamily: FONT }, grid, xAxis, yAxis, series, visualMap };
}

function txt(t: string, x: number, y: number, font: string, extra: any = {}) {
  return {
    type: 'text', x, y, z: 100, silent: true, rotation: extra.rotation || 0,
    style: {
      text: t, font, fill: extra.fill || TXT,
      align: extra.align || 'center', verticalAlign: 'middle',
      textAlign: extra.align || 'center', textVerticalAlign: 'middle',
    },
  };
}

function buildGraphics(chart: any) {
  const g: any[] = [];
  const stops = PARULA.map((c, i) => ({ offset: i / (PARULA.length - 1), color: c }));
  HEATMAPS.forEach((h) => {
    g.push(txt(h.title, h.left + HM_W / 2, h.top - 36, 'bold 50px ' + FONT, { fill: '#000000' }));
    g.push({
      type: 'rect', z: 100, silent: true,
      shape: { x: h.cb, y: h.top, width: CB_W, height: HM_H },
      style: { fill: new echarts.graphic.LinearGradient(0, 1, 0, 0, stops), stroke: TXT, lineWidth: 1.2 },
    });
    g.push({
      type: 'line', z: 101, silent: true,
      shape: { x1: h.cb + CB_W - 6, y1: h.top + HM_H / 2, x2: h.cb + CB_W, y2: h.top + HM_H / 2 },
      style: { stroke: TXT, lineWidth: 1.2 },
    });
    const lx = h.cb + CB_W + 14;
    g.push(txt('Better', lx, h.top, '46px ' + FONT, { align: 'left' }));
    g.push(txt('Mid', lx, h.top + HM_H / 2, '46px ' + FONT, { align: 'left' }));
    g.push(txt('Worse', lx, h.top + HM_H, '46px ' + FONT, { align: 'left' }));
  });

  g.push(txt('Color = substrate, line style = perturbation', 1547, 1559, '53px ' + FONT));
  g.push(txt('Frequency (GHz)', 1547, 2263, '36px ' + FONT));

  PANELS.forEach((p, j) => {
    const gi = 4 + j;
    g.push(txt(p.title, p.left + p.width / 2, LP_TOP - 18, 'bold 27px ' + FONT, { fill: '#000000' }));
    // annotation box
    g.push({
      type: 'rect', z: 100, silent: true,
      shape: { x: p.left, y: LP_TOP + 20, width: p.boxW, height: 65 },
      style: { fill: '#FFFFFF', stroke: 'none' },
    });
    g.push(txt(p.note[0], p.left + 9, LP_TOP + 41, 'bold 18px ' + FONT, { align: 'left' }));
    g.push(txt(p.note[1], p.left + 9, LP_TOP + 66, 'bold 18px ' + FONT, { align: 'left' }));
    if (p.centerLine) {
      const top = chart.convertToPixel({ xAxisIndex: gi, yAxisIndex: gi }, [F_CENTER, p.y[1]]);
      const bot = chart.convertToPixel({ xAxisIndex: gi, yAxisIndex: gi }, [F_CENTER, p.y[0]]);
      g.push({
        type: 'line', z: 50, silent: true,
        shape: { x1: top[0], y1: top[1], x2: top[0], y2: bot[1] - 78 },
        style: { stroke: '#7A7A7A', lineWidth: 1.5 },
      });
      g.push(txt('2.45 GHz', top[0] + 1, bot[1] - 44, '15.5px ' + FONT, { fill: '#6E6E6E', rotation: Math.PI / 2 }));
    }
  });
  return g;
}

export default function App() {
  const ref = useRef<HTMLDivElement>(null);
  useEffect(() => {
    if (!ref.current) return;
    const chart = echarts.init(ref.current, null, { renderer: 'svg', width: 3033, height: 2290 });
    chart.setOption(buildOption());
    chart.setOption({ graphic: buildGraphics(chart) });
    return () => chart.dispose();
  }, []);
  return (
    <div
      ref={ref}
      style={{ position: 'fixed', left: 0, top: 0, width: 3033, height: 2290, background: '#FFFFFF' }}
    />
  );
}
